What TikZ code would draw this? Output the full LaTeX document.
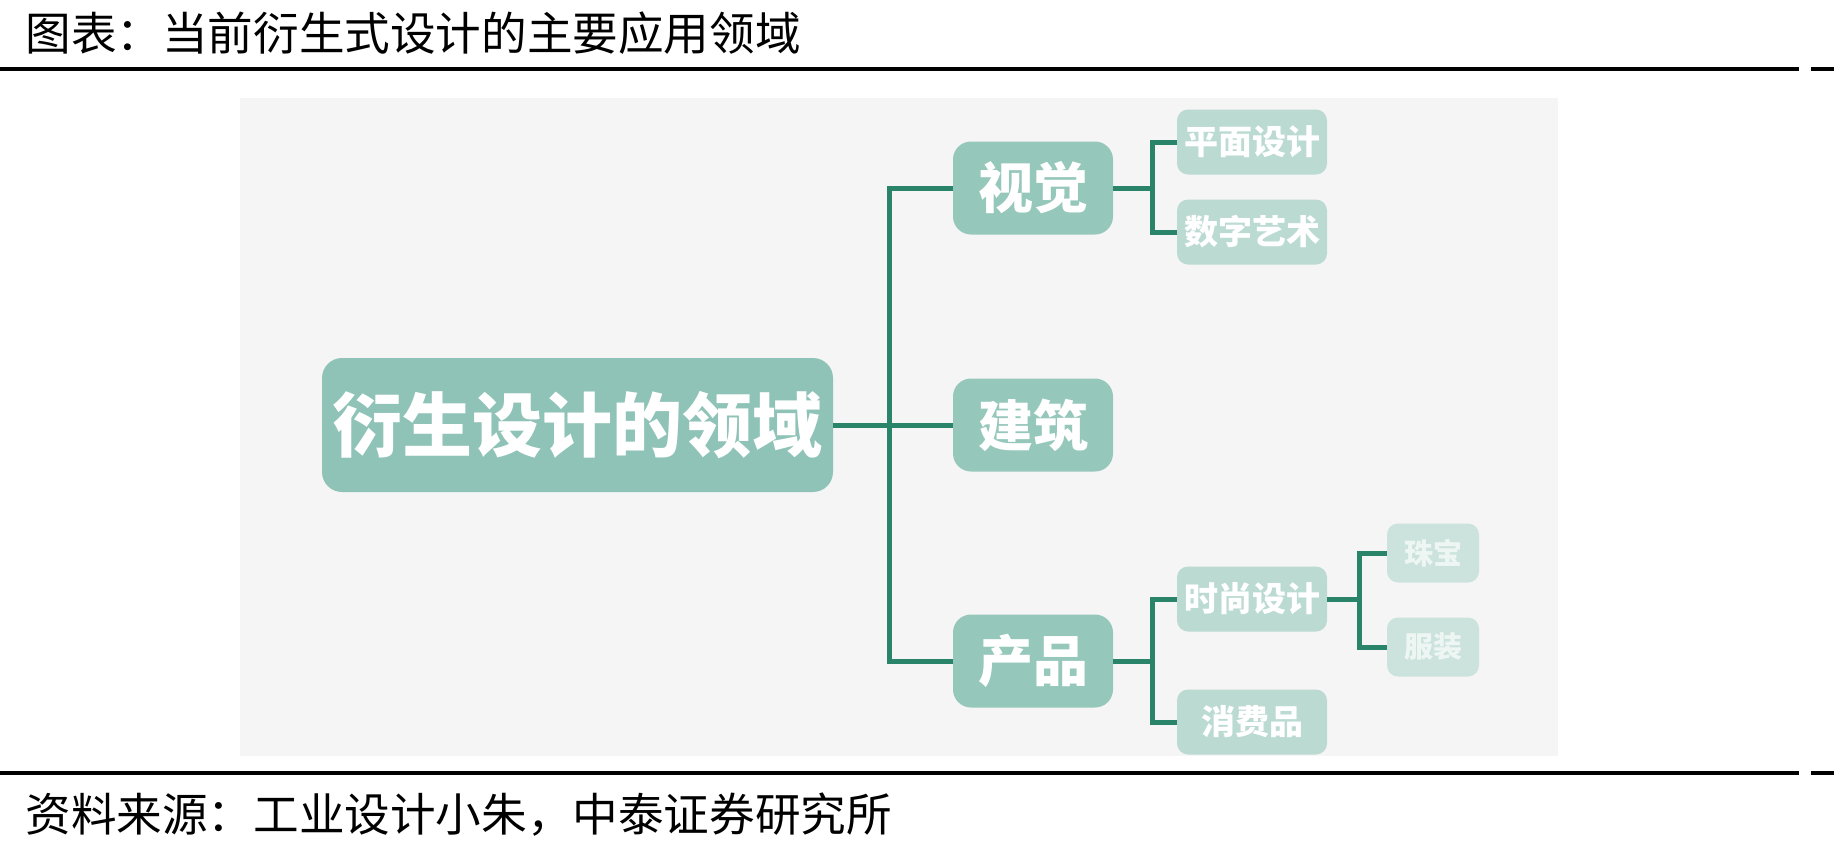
\documentclass[tikz,border=0pt]{standalone}
\usepackage{fontspec}
\usepackage{xcolor}
\usepackage{tikz}
\usetikzlibrary{positioning}
\newfontfamily\cjk{Noto Sans CJK SC}

\definecolor{bgray}{HTML}{F5F5F5}
\definecolor{rootfill}{HTML}{8FC3B7}
\definecolor{onefill}{HTML}{96C7BB}
\definecolor{twofill}{HTML}{BBDAD2}
\definecolor{threefill}{HTML}{CCE3DD}
\definecolor{threetext}{HTML}{EEF6F3}
\definecolor{branch}{HTML}{2A8469}

\begin{document}
\begin{tikzpicture}[x=1pt,y=-1pt,
  rootbox/.style={fill=rootfill,rounded corners=20pt,inner sep=0pt,
    minimum width=511pt,minimum height=134pt,text=white,
    font=\cjk\bfseries\fontsize{70}{80}\selectfont},
  onebox/.style={fill=onefill,rounded corners=18pt,inner sep=0pt,
    minimum width=160pt,minimum height=93pt,text=white,
    font=\cjk\bfseries\fontsize{55}{62}\selectfont},
  twobox/.style={fill=twofill,rounded corners=11pt,inner sep=0pt,
    minimum width=150pt,minimum height=65pt,text=white,
    font=\cjk\bfseries\fontsize{34}{40}\selectfont},
  threebox/.style={fill=threefill,rounded corners=11pt,inner sep=0pt,
    minimum width=92pt,minimum height=59pt,text=threetext,
    font=\cjk\bfseries\fontsize{29}{34}\selectfont},
  link/.style={draw=branch,line width=5pt,line join=miter},
  rule/.style={line width=4pt}]
  \useasboundingbox (0,0) rectangle (1834,852);

  % caption and rules
  \node[anchor=west,font=\cjk\fontsize{45.6}{54}\selectfont] (title) at (22,33)
    {图表：当前衍生式设计的主要应用领域};
  \draw[rule] (0,69) -- (1799,69);
  \draw[rule] (1811,69) -- (1834,69);
  \fill[bgray] (240,98) rectangle (1558,756);
  \draw[rule] (0,773) -- (1799,773);
  \draw[rule] (1811,773) -- (1834,773);
  \node[anchor=west,font=\cjk\fontsize{45.6}{54}\selectfont] (source) at (22,815)
    {资料来源：工业设计小朱，中泰证券研究所};

  % tree nodes
  \node[rootbox] (root) at (577.5,425) {衍生设计的领域};
  \node[onebox] (vis)  at (1033,188) {视觉};
  \node[onebox] (arch) at (1033,425) {建筑};
  \node[onebox] (prod) at (1033,661) {产品};
  \node[twobox] (flat) at (1252,142) {平面设计};
  \node[twobox] (digi) at (1252,232) {数字艺术};
  \node[twobox] (fash) at (1252,599) {时尚设计};
  \node[twobox] (cons) at (1252,722) {消费品};
  \node[threebox] (jewel) at (1433,553) {珠宝};
  \node[threebox] (cloth) at (1433,647) {服装};

  % junctions
  \coordinate (j1) at (889,425);
  \coordinate (j2) at (1152,188);
  \coordinate (j3) at (1152,661);
  \coordinate (j4) at (1359,599);

  % connectors
  \draw[link] (root.east) -- (j1) -- (arch.west);
  \foreach \n in {vis,prod}
    \draw[link] (j1) |- (\n.west);
  \draw[link] (vis.east) -- (j2);
  \foreach \n in {flat,digi}
    \draw[link] (j2) |- (\n.west);
  \draw[link] (prod.east) -- (j3);
  \foreach \n in {fash,cons}
    \draw[link] (j3) |- (\n.west);
  \draw[link] (fash.east) -- (j4);
  \foreach \n in {jewel,cloth}
    \draw[link] (j4) |- (\n.west);
\end{tikzpicture}
\end{document}
